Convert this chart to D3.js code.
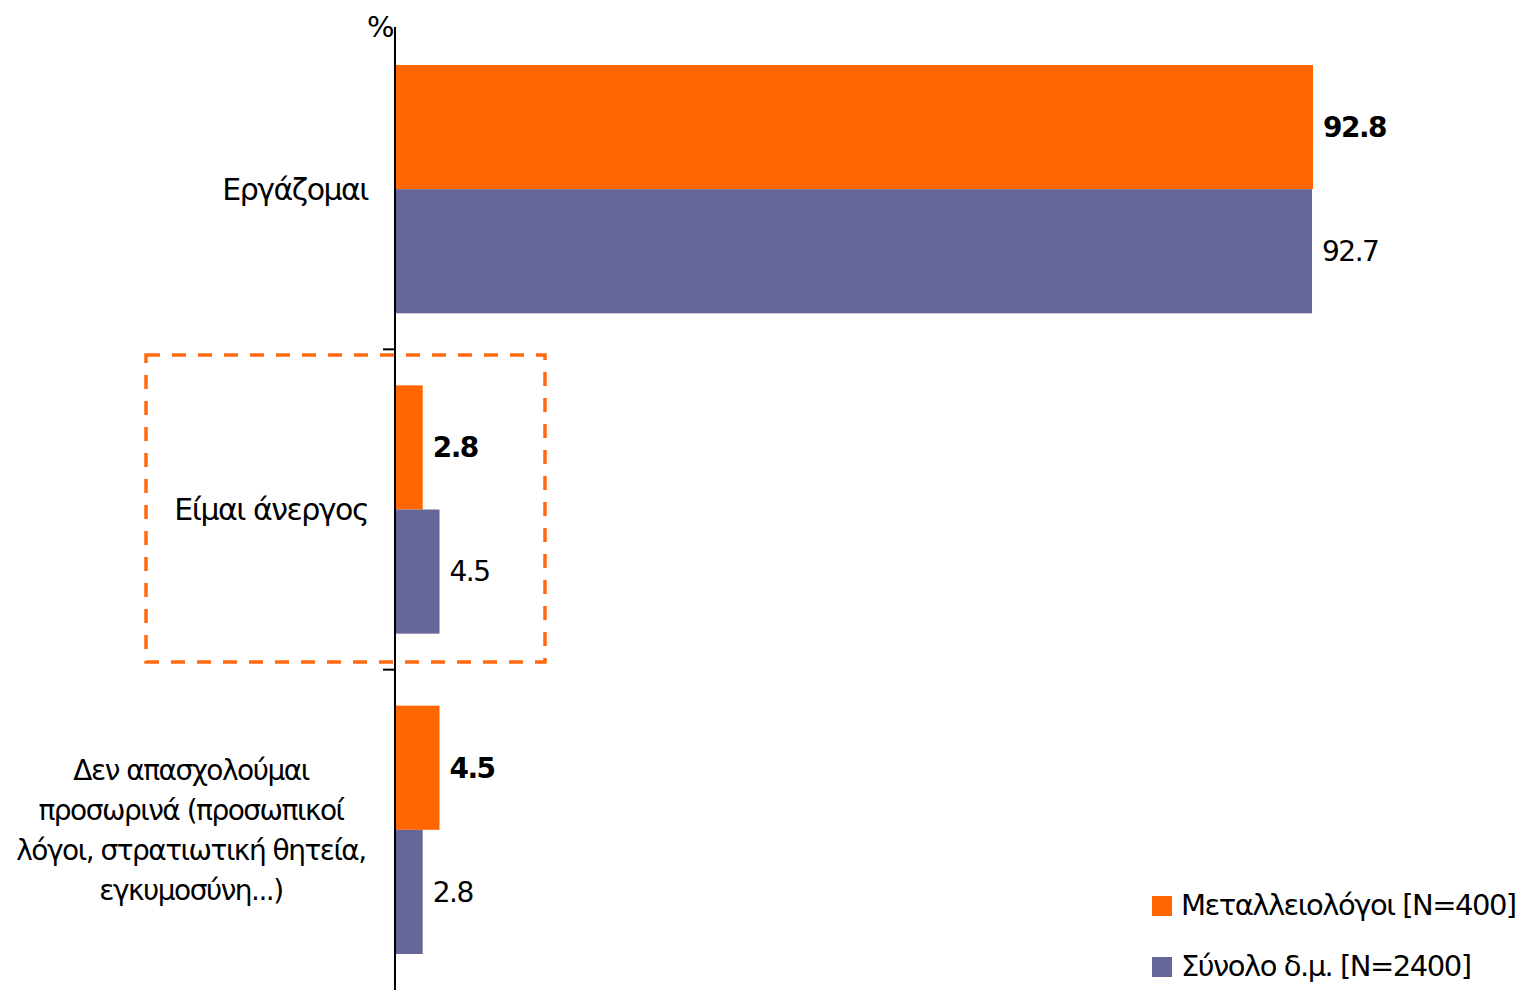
<!DOCTYPE html>
<html><head><meta charset="utf-8">
<script src="https://cdn.jsdelivr.net/npm/d3@7"></script>
<style>
html,body{margin:0;padding:0;background:#fff;}
svg text{font-family:"DejaVu Sans",Arial,sans-serif;fill:#000;}
</style></head>
<body><svg id="c" width="1517" height="990"></svg>
<script>
const categories = ["Εργάζομαι", "Είμαι άνεργος", "Δεν απασχολούμαι προσωρινά (προσωπικοί λόγοι, στρατιωτική θητεία, εγκυμοσύνη...)"];
const categoryLines = [["Εργάζομαι"], ["Είμαι άνεργος"], ["Δεν απασχολούμαι", "προσωρινά (προσωπικοί", "λόγοι, στρατιωτική θητεία,", "εγκυμοσύνη...)"]];
const seriesNames = ["Μεταλλειολόγοι [N=400]", "Σύνολο δ.μ. [N=2400]"];
const metallValues = [92.8, 2.8, 4.5];
const totalValues = [92.7, 4.5, 2.8];
const colors = ["#FF6600", "#666699"];

const FS = "28px", LS = "-1.5px";
const svg = d3.select("#c");
const x0 = 395;
const x = d3.scaleLinear().domain([0, 92.8]).range([x0, 1313]);
const y = d3.scaleBand().domain(categories).range([29, 990]).padding(0);
const ys = d3.scaleBand().domain([0, 1]).range([0, y.bandwidth()]).paddingInner(0).paddingOuter(0.29);

const data = categories.map((c, i) => ({c, vals: [metallValues[i], totalValues[i]]}));

// dashed highlight box
svg.append("rect")
  .attr("x", 146).attr("y", 355).attr("width", 399).attr("height", 307)
  .attr("fill", "none").attr("stroke", "#FF6A10").attr("stroke-width", 3.5)
  .attr("stroke-dasharray", "14,12");

const g = svg.append("g");
data.forEach((d, i) => {
  d.vals.forEach((v, j) => {
    const yy = y(d.c) + ys(j);
    g.append("rect").attr("x", x(0)).attr("y", yy)
      .attr("width", x(v) - x(0)).attr("height", ys.bandwidth())
      .attr("fill", colors[j]);
    g.append("text").attr("x", x(v) + 10).attr("y", yy + ys.bandwidth() / 2)
      .attr("dy", "0.35em")
      .style("font-size", FS).style("letter-spacing", LS)
      .style("font-weight", j === 0 ? "bold" : "normal")
      .text(v.toFixed(1));
  });
});

// axis
svg.append("line").attr("x1", x0).attr("x2", x0).attr("y1", 27).attr("y2", 990)
  .attr("stroke", "#000").attr("stroke-width", 2);
categories.slice(1).forEach(c => {
  svg.append("line").attr("x1", 383).attr("x2", x0).attr("y1", y(c)).attr("y2", y(c))
    .attr("stroke", "#000").attr("stroke-width", 2);
});

// category labels
categories.forEach((c, i) => {
  const lines = categoryLines[i];
  const cy = y(c) + y.bandwidth() / 2;
  const t = svg.append("text").style("letter-spacing", LS);
  if (lines.length === 1) {
    t.style("font-size", "30px").attr("text-anchor", "end").attr("x", 368).attr("y", cy).attr("dy", "0.35em").text(lines[0]);
  } else {
    t.style("font-size", FS);
    const lh = 40;
    lines.forEach((l, k) => {
      t.append("tspan").attr("text-anchor", "middle").attr("x", 191)
        .attr("y", cy + (k - (lines.length - 1) / 2) * lh).attr("dy", "0.35em").text(l);
    });
  }
});

// % label
svg.append("text").attr("x", 393).attr("y", 37).attr("text-anchor", "end")
  .style("font-size", "29px").style("letter-spacing", LS).text("%");

// legend
seriesNames.forEach((s, j) => {
  const ly = 905 + j * 61;
  svg.append("rect").attr("x", 1152).attr("y", ly - 9).attr("width", 20).attr("height", 20).attr("fill", colors[j]);
  svg.append("text").attr("x", 1181).attr("y", ly).attr("dy", "0.35em")
    .style("font-size", "29px").style("letter-spacing", LS).text(s);
});
</script></body></html>
